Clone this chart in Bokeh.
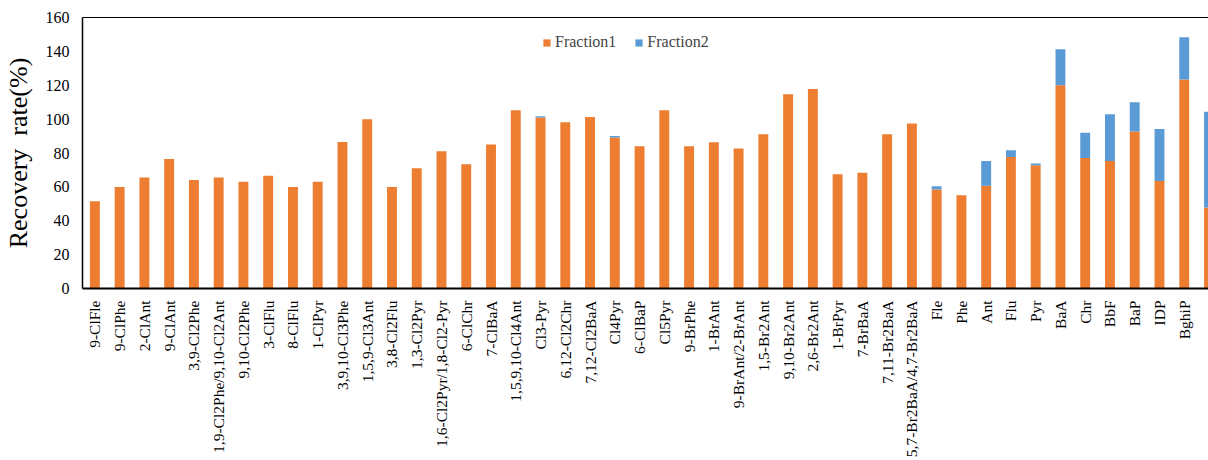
import math
from bokeh.plotting import figure
from bokeh.models import ColumnDataSource, Range1d, FixedTicker, LinearAxis, Legend
from bokeh.embed import file_html
from bokeh.resources import INLINE

categories = ["9-ClFle", "9-ClPhe", "2-ClAnt", "9-ClAnt", "3,9-Cl2Phe", "1,9-Cl2Phe/9,10-Cl2Ant",
              "9,10-Cl2Phe", "3-ClFlu", "8-ClFlu", "1-ClPyr", "3,9,10-Cl3Phe", "1,5,9-Cl3Ant",
              "3,8-Cl2Flu", "1,3-Cl2Pyr", "1,6-Cl2Pyr/1,8-Cl2-Pyr", "6-ClChr", "7-ClBaA",
              "1,5,9,10-Cl4Ant", "Cl3-Pyr", "6,12-Cl2Chr", "7,12-Cl2BaA", "Cl4Pyr", "6-ClBaP",
              "Cl5Pyr", "9-BrPhe", "1-BrAnt", "9-BrAnt/2-BrAnt", "1,5-Br2Ant", "9,10-Br2Ant",
              "2,6-Br2Ant", "1-BrPyr", "7-BrBaA", "7,11-Br2BaA", "5,7-Br2BaA/4,7-Br2BaA",
              "Fle", "Phe", "Ant", "Flu", "Pyr", "BaA", "Chr", "BbF", "BaP", "IDP", "BghiP", "DBahA"]

fraction1 = [51.5, 60, 65.5, 76.5, 64, 65.5, 63, 66.5, 60, 63, 86.5, 100, 60, 71, 81, 73.3, 85,
             105.3, 101, 98.2, 101.3, 89.2, 84, 105.3, 84, 86.4, 82.6, 91.1, 114.7, 117.8,
             67.5, 68.3, 91.1, 97.4, 58.4, 55.1, 60.6, 77.7, 72.8, 120.0, 77.1, 75.3, 92.7,
             63.5, 123.4, 47.8]

fraction2 = [0, 0, 0, 0, 0, 0, 0, 0, 0, 0, 0, 0, 0, 0, 0, 0, 0, 0, 0.7, 0, 0, 0.8, 0, 0, 0, 0,
             0, 0, 0, 0, 0, 0, 0, 0, 2.0, 0, 14.7, 3.9, 1.0, 21.3, 14.8, 27.6, 17.3, 30.7,
             24.9, 56.5]

y_ticks = [0, 20, 40, 60, 80, 100, 120, 140, 160]

ORANGE = "#ED7D31"
BLUE = "#5B9BD5"
FONT = "Liberation Serif"

x = list(range(len(categories)))
source = ColumnDataSource(data=dict(x=x, f1=fraction1, f2=fraction2))

p = figure(width=1208, height=460, output_backend="svg", toolbar_location=None,
           x_range=Range1d(-0.5, 44.98), y_range=Range1d(0, 160),
           min_border_left=82, min_border_right=0, min_border_top=17, min_border_bottom=171)
p.outline_line_color = None
p.background_fill_color = "white"
p.border_fill_color = "white"
p.xgrid.visible = False
p.ygrid.visible = False

rs = p.vbar_stack(["f1", "f2"], x="x", width=0.4, source=source,
                  color=[ORANGE, BLUE], line_color=None)

# x axis
xa = p.xaxis[0]
xa.ticker = FixedTicker(ticks=x)
xa.major_label_overrides = {i: c for i, c in enumerate(categories)}
xa.major_label_orientation = math.pi / 2
xa.major_label_text_font = FONT
xa.major_label_text_font_size = "15.5px"
xa.major_label_text_color = "black"
xa.major_tick_line_color = None
xa.minor_tick_line_color = None
xa.major_label_standoff = 6
xa.axis_line_color = "black"
xa.axis_line_width = 2

# y axis
ya = p.yaxis[0]
ya.ticker = FixedTicker(ticks=y_ticks)
ya.major_label_text_font = FONT
ya.major_label_text_font_size = "16px"
ya.major_label_text_color = "black"
ya.major_tick_line_color = None
ya.minor_tick_line_color = None
ya.major_tick_out = 0
ya.major_label_standoff = 13
ya.axis_line_color = "black"
ya.axis_line_width = 1.5
ya.axis_label = "Recovery\u00a0 rate(%)"
ya.axis_label_text_font = FONT
ya.axis_label_text_font_size = "26px"
ya.axis_label_text_font_style = "normal"
ya.axis_label_text_color = "black"
ya.axis_label_standoff = 10

# top border line
top = LinearAxis(ticker=FixedTicker(ticks=[]), major_label_text_font_size="0px",
                 major_tick_line_color=None, minor_tick_line_color=None,
                 axis_line_color="black", axis_line_width=1)
p.add_layout(top, "above")

legend = Legend(items=[("Fraction1", [rs[0]]), ("Fraction2", [rs[1]])],
                location=(460, 237), orientation="horizontal",
                label_text_font=FONT, label_text_font_size="16px",
                glyph_width=9, glyph_height=9, label_standoff=4, spacing=18,
                padding=0, margin=0, border_line_color=None, background_fill_alpha=0)
p.add_layout(legend, "center")

open("out.html", "w").write(file_html(p, INLINE))
